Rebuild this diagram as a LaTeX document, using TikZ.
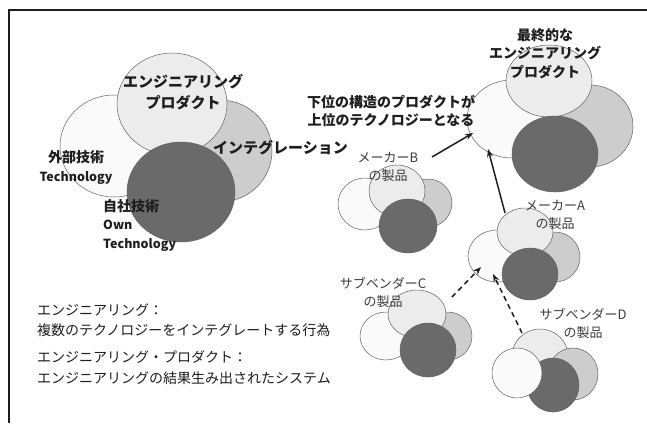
\documentclass[tikz,border=0pt]{standalone}
\usepackage{fontspec}
\newfontfamily\jp{Noto Sans CJK JP}
\usetikzlibrary{arrows.meta}
\definecolor{cwhite}{HTML}{FAFAFA}
\definecolor{clight}{HTML}{ECECEC}
\definecolor{cmid}{HTML}{CDCDCD}
\definecolor{cdark}{HTML}{6A6A6A}
\definecolor{cedge}{HTML}{626262}
\definecolor{ctext}{HTML}{1E1E1E}
\definecolor{csub}{HTML}{3C3C3C}
\begin{document}
\begin{tikzpicture}[x=1pt,y=-1pt,
  circ/.style={draw=cedge,line width=0.5pt},
  discwhite/.style={circ,fill=cwhite},
  disclight/.style={circ,fill=clight},
  discmid/.style={circ,fill=cmid},
  discdark/.style={circ,fill=cdark},
  biglab/.style={font=\jp\bfseries\fontsize{15}{21}\selectfont,align=center,inner sep=0pt,text=ctext},
  midlab/.style={font=\jp\bfseries\fontsize{14}{18.5}\selectfont,align=center,inner sep=0pt,text=ctext},
  prodlab/.style={font=\jp\fontsize{13}{18}\selectfont,align=center,inner sep=0pt,text=csub},
  notelab/.style={font=\jp\fontsize{14}{20.5}\selectfont,align=left,inner sep=0pt,text=ctext,anchor=west},
  solidarr/.style={line width=1.5pt,draw=ctext,-{Stealth[length=8pt,width=6pt]}},
  dasharr/.style={solidarr,dash pattern=on 5pt off 4pt}
]
\useasboundingbox (0,0) rectangle (647,423);
\fill[white] (0,0) rectangle (647,423);
% frame
\draw[line width=2.2pt,draw=ctext] (9,423) -- (9,10) -- (647,10);

% big cluster
\path[discwhite] (114,146) ellipse (54 and 51);
\path[discmid] (220,151) ellipse (52 and 51);
\path[disclight] (172,104) ellipse (55 and 51);
\path[discdark] (181,192) ellipse (54 and 50);

% top right cluster
\path[discwhite] (512,119) ellipse (45 and 39);
\path[discmid] (590,126) ellipse (43 and 41);
\path[disclight] (549,81) ellipse (43 and 36);
\path[discdark] (555,154) ellipse (43 and 38);

% cluster B
\path[discwhite] (365,204) ellipse (27 and 26);
\path[discmid] (428,203) ellipse (24 and 24);
\path[disclight] (397,191) ellipse (28 and 26);
\path[discdark] (408,226) ellipse (29 and 27);

% cluster A
\path[discwhite] (497,256) ellipse (29 and 26);
\path[discmid] (555,257) ellipse (25 and 25);
\path[disclight] (525,232) ellipse (28 and 24);
\path[discdark] (530,274) ellipse (28 and 26);

% cluster C
\path[discwhite] (386,336) ellipse (26 and 24);
\path[discmid] (448,336) ellipse (24 and 24);
\path[disclight] (417,314) ellipse (29 and 24);
\path[discdark] (428,350) ellipse (28 and 27);

% cluster D
\path[disclight] (540,356) ellipse (28 and 27);
\path[discmid] (573,374) ellipse (25 and 26);
\path[discdark] (553,385) ellipse (26 and 27);
\path[discwhite] (517,373) ellipse (25 and 25);

% labels big cluster
\node[biglab] (engprod) at (183,92.5) {エンジニアリング\\プロダクト};
\node[biglab,anchor=west] (integ) at (213,148) {インテグレーション};
\node[midlab] (ext) at (76,167.5) {外部技術\\{\fontsize{12.5}{18.5}\selectfont Technology}};
\node[midlab,align=left,anchor=west] (own) at (103,225) {自社技術\\{\fontsize{12.5}{18}\selectfont Own}\\{\fontsize{12.5}{18}\selectfont Technology}};

% labels top right
\node[midlab] (final) at (545,53.5) {最終的な\\エンジニアリング\\プロダクト};
\node[midlab] (lower) at (391,111) {下位の構造のプロダクトが\\上位のテクノロジーとなる};

% product labels
\node[prodlab] (mb) at (388,166.5) {メーカーB\\の製品};
\node[prodlab] (ma) at (555,215) {メーカーA\\の製品};
\node[prodlab] (sc) at (383,292.5) {サブベンダーC\\の製品};
\node[prodlab] (sd) at (583,323) {サブベンダーD\\の製品};

% notes
\node[notelab] (note1) at (37,320) {エンジニアリング：\\複数のテクノロジーをインテグレートする行為};
\node[notelab] (note2) at (37,367.5) {エンジニアリング・プロダクト：\\エンジニアリングの結果生み出されたシステム};

% arrows
\coordinate (bS) at (432,157);
\coordinate (bE) at (473,133);
\coordinate (aS) at (505,213);
\coordinate (aE) at (488,149);
\coordinate (cS) at (452,297);
\coordinate (cE) at (481,267);
\coordinate (dS) at (522,333);
\coordinate (dE) at (493,274);
\draw[solidarr] (bS) -- (bE);
\draw[solidarr] (aS) -- (aE);
\draw[dasharr] (cS) -- (cE);
\draw[dasharr] (dS) -- (dE);
\end{tikzpicture}
\end{document}
